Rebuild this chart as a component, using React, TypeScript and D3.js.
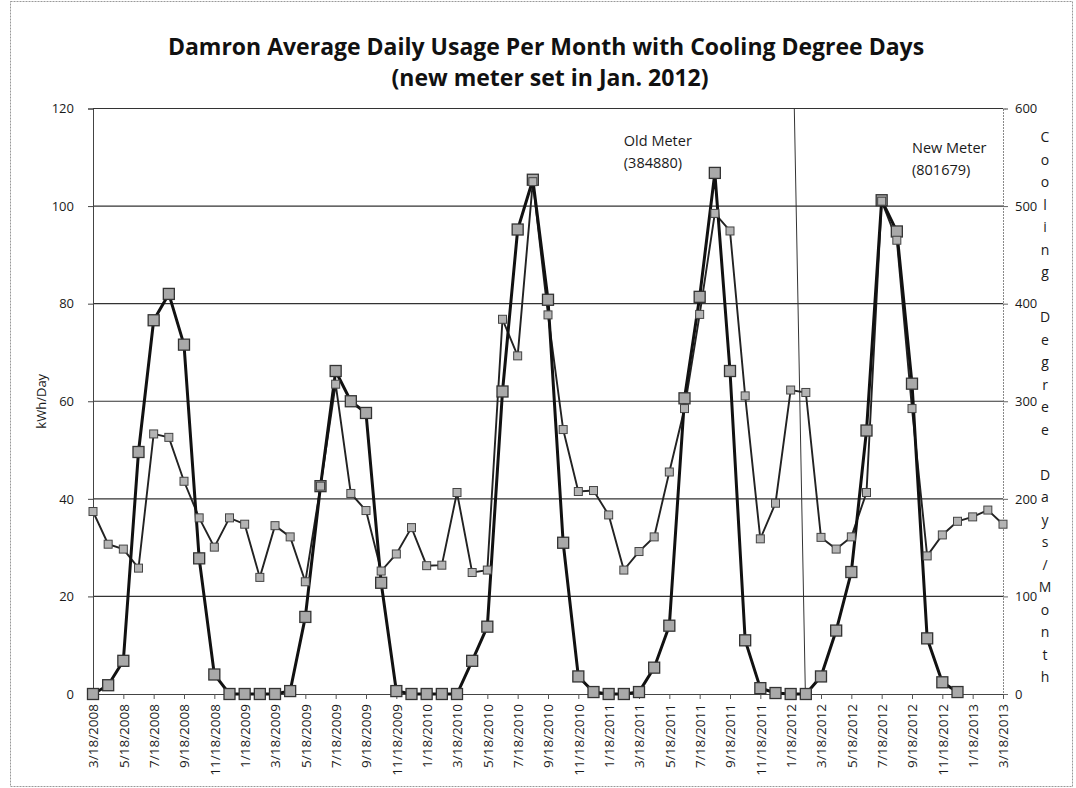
import React, { useEffect, useRef } from "react";
import * as d3 from "d3";

// monthly reading dates (category axis)
const months = [
  "3/18/2008", "4/18/2008", "5/18/2008", "6/18/2008", "7/18/2008", "8/18/2008", "9/18/2008", "10/18/2008", "11/18/2008", "12/18/2008",
  "1/18/2009", "2/18/2009", "3/18/2009", "4/18/2009", "5/18/2009", "6/18/2009", "7/18/2009", "8/18/2009", "9/18/2009", "10/18/2009", "11/18/2009", "12/18/2009",
  "1/18/2010", "2/18/2010", "3/18/2010", "4/18/2010", "5/18/2010", "6/18/2010", "7/18/2010", "8/18/2010", "9/18/2010", "10/18/2010", "11/18/2010", "12/18/2010",
  "1/18/2011", "2/18/2011", "3/18/2011", "4/18/2011", "5/18/2011", "6/18/2011", "7/18/2011", "8/18/2011", "9/18/2011", "10/18/2011", "11/18/2011", "12/18/2011",
  "1/18/2012", "2/18/2012", "3/18/2012", "4/18/2012", "5/18/2012", "6/18/2012", "7/18/2012", "8/18/2012", "9/18/2012", "10/18/2012", "11/18/2012", "12/18/2012",
  "1/18/2013", "2/18/2013", "3/18/2013",
];

const tickLabels = [
  "3/18/2008", "5/18/2008", "7/18/2008", "9/18/2008", "11/18/2008",
  "1/18/2009", "3/18/2009", "5/18/2009", "7/18/2009", "9/18/2009", "11/18/2009",
  "1/18/2010", "3/18/2010", "5/18/2010", "7/18/2010", "9/18/2010", "11/18/2010",
  "1/18/2011", "3/18/2011", "5/18/2011", "7/18/2011", "9/18/2011", "11/18/2011",
  "1/18/2012", "3/18/2012", "5/18/2012", "7/18/2012", "9/18/2012", "11/18/2012",
  "1/18/2013", "3/18/2013",
];

// kWh/Day (left axis)
const kwhPerDay = [
  37.4, 30.7, 29.7, 25.8, 53.3, 52.6, 43.6, 36.1, 30.1, 36.1,
  34.8, 23.9, 34.5, 32.2, 23.0, 42.6, 63.5, 41.1, 37.6, 25.2,
  28.7, 34.1, 26.3, 26.4, 41.3, 24.9, 25.4, 76.8, 69.3, 105.0,
  77.7, 54.2, 41.5, 41.7, 36.7, 25.4, 29.2, 32.2, 45.5, 58.5,
  77.8, 98.5, 94.9, 61.1, 31.8, 39.1, 62.3, 61.8, 32.1, 29.7,
  32.2, 41.3, 101.0, 93.0, 58.5, 28.3, 32.6, 35.4, 36.3, 37.7, 34.8,
];

// Cooling degree days per month (right axis), ends 12/18/2012
const coolingDegreeDays = [
  0, 9, 34, 248, 383, 410, 358, 139, 20, 0,
  0, 0, 0, 3, 79, 213, 331, 300, 288, 114,
  3, 0, 0, 0, 0, 34, 69, 310, 476, 527,
  404, 155, 18, 2, 0, 0, 2, 27, 70, 303,
  407, 534, 331, 55, 6, 1, 0, 0, 18, 65,
  125, 270, 506, 474, 318, 57, 12, 2,
];

const leftTicks = [0, 20, 40, 60, 80, 100, 120];
const rightTicks = [0, 100, 200, 300, 400, 500, 600];
const rightTitle = "Cooling Degree Days/Month";

// meter change marker: drawn after 1/18/2012 (fraction of a month step, top and bottom)
const meterChangeMonth = "1/18/2012";
const meterChangeFrac = [0.24, 0.97];

const notes = [
  { month: "2/18/2011", value: 112.3, lines: ["Old Meter", "(384880)"] },
  { month: "9/18/2012", value: 110.8, lines: ["New Meter", "(801679)"] },
];

const FONT = "'Open Sans', sans-serif";

const DamronChart: React.FC = () => {
  const svgRef = useRef<SVGSVGElement | null>(null);

  useEffect(() => {
    if (!svgRef.current) return;
    const svg = d3.select(svgRef.current);
    svg.selectAll("*").remove();

    const width = 1076;
    const height = 788;
    const left = 93;
    const right = 1003;
    const top = 108.5;
    const bottom = 694;

    svg.attr("width", width).attr("height", height);

    svg.append("rect")
      .attr("width", width).attr("height", height).attr("fill", "#fff");
    svg.append("rect")
      .attr("x", 10.5).attr("y", 1.5).attr("width", 1062).attr("height", 785)
      .attr("fill", "none").attr("stroke", "#999").attr("stroke-dasharray", "2,1");

    const x = d3.scalePoint<string>().domain(months).range([left, right]);
    const yL = d3.scaleLinear().domain([0, 120]).range([bottom, top]);
    const yR = d3.scaleLinear().domain([0, 600]).range([bottom, top]);

    // title
    const title = svg.append("text")
      .attr("x", 546).attr("text-anchor", "middle")
      .attr("font-family", FONT).attr("font-weight", "bold").attr("font-size", 23)
      .attr("fill", "#111");
    title.append("tspan").attr("x", 546).attr("y", 55)
      .text("Damron Average Daily Usage Per Month with Cooling Degree Days");
    title.append("tspan").attr("x", 550).attr("y", 86)
      .text("(new meter set in Jan. 2012)");

    // gridlines
    svg.append("g").selectAll("line")
      .data(leftTicks.filter((d) => d > 0))
      .join("line")
      .attr("x1", left).attr("x2", right)
      .attr("y1", (d) => yL(d)).attr("y2", (d) => yL(d))
      .attr("stroke", "#333").attr("stroke-width", 1.1);

    // left axis
    const gl = svg.append("g")
      .attr("transform", `translate(${left},0)`)
      .call(d3.axisLeft(yL).tickValues(leftTicks).tickSize(5).tickPadding(14));
    gl.select(".domain").attr("stroke", "#444");
    gl.selectAll(".tick line").attr("stroke", "#444");
    gl.selectAll("text").attr("font-family", FONT).attr("font-size", 13).attr("fill", "#1a1a1a");

    // right axis
    const gr = svg.append("g")
      .attr("transform", `translate(${right},0)`)
      .call(d3.axisRight(yR).tickValues(rightTicks).tickSize(5).tickPadding(7));
    gr.select(".domain").attr("stroke", "#888").attr("stroke-dasharray", "2,1");
    gr.selectAll(".tick line").attr("stroke", "#666");
    gr.selectAll("text").attr("font-family", FONT).attr("font-size", 13).attr("fill", "#1a1a1a");

    // bottom axis
    const gb = svg.append("g")
      .attr("transform", `translate(0,${bottom})`)
      .call(d3.axisBottom(x).tickValues(tickLabels).tickSize(5).tickSizeOuter(0));
    gb.select(".domain").attr("stroke", "#444");
    gb.selectAll(".tick line").attr("stroke", "#555");
    gb.selectAll("text")
      .attr("font-family", FONT).attr("font-size", 13.5).attr("fill", "#1a1a1a")
      .attr("transform", "rotate(-90)")
      .attr("text-anchor", "end")
      .attr("x", -10).attr("y", 0).attr("dy", "0.35em");

    // axis titles
    svg.append("text")
      .attr("transform", `translate(46,${(top + bottom) / 2}) rotate(-90)`)
      .attr("text-anchor", "middle")
      .attr("font-family", FONT).attr("font-size", 13).attr("fill", "#1a1a1a")
      .text("kWh/Day");

    svg.append("g").selectAll("text")
      .data(rightTitle.split(""))
      .join("text")
      .attr("x", 1045).attr("y", (_, i) => 142 + i * 22.5)
      .attr("text-anchor", "middle")
      .attr("font-family", FONT).attr("font-size", 14).attr("fill", "#1a1a1a")
      .text((d) => d);

    // meter change line
    const step = x.step();
    svg.append("line")
      .attr("x1", x(meterChangeMonth)! + meterChangeFrac[0] * step).attr("y1", top)
      .attr("x2", x(meterChangeMonth)! + meterChangeFrac[1] * step).attr("y2", bottom)
      .attr("stroke", "#333").attr("stroke-width", 1);

    // annotations
    notes.forEach((n) => {
      const t = svg.append("text")
        .attr("font-family", FONT).attr("font-size", 14.5).attr("fill", "#1a1a1a");
      n.lines.forEach((ln, i) => {
        t.append("tspan").attr("x", x(n.month)!).attr("y", yL(n.value) + i * 22).text(ln);
      });
    });

    // kWh series
    const kwhLine = d3.line<number>()
      .x((_, i) => x(months[i])!)
      .y((d) => yL(d));
    svg.append("path")
      .attr("d", kwhLine(kwhPerDay))
      .attr("fill", "none").attr("stroke", "#222").attr("stroke-width", 1.9);

    // CDD series
    const cddLine = d3.line<number>()
      .x((_, i) => x(months[i])!)
      .y((d) => yR(d));
    svg.append("path")
      .attr("d", cddLine(coolingDegreeDays))
      .attr("fill", "none").attr("stroke", "#111").attr("stroke-width", 3);

    const big = 11;
    svg.append("g").selectAll("rect")
      .data(coolingDegreeDays)
      .join("rect")
      .attr("x", (_, i) => x(months[i])! - big / 2)
      .attr("y", (d) => yR(d) - big / 2)
      .attr("width", big).attr("height", big)
      .attr("fill", "#a9a9a9").attr("stroke", "#333").attr("stroke-width", 1.3);

    const small = 8;
    svg.append("g").selectAll("rect")
      .data(kwhPerDay)
      .join("rect")
      .attr("x", (_, i) => x(months[i])! - small / 2)
      .attr("y", (d) => yL(d) - small / 2)
      .attr("width", small).attr("height", small)
      .attr("fill", "#b4b4b4").attr("stroke", "#444").attr("stroke-width", 1);
  }, []);

  return (
    <svg
      ref={svgRef}
      style={{ position: "absolute", left: 0, top: 0, display: "block" }}
    ></svg>
  );
};

export default function App() {
  return <DamronChart />;
}
